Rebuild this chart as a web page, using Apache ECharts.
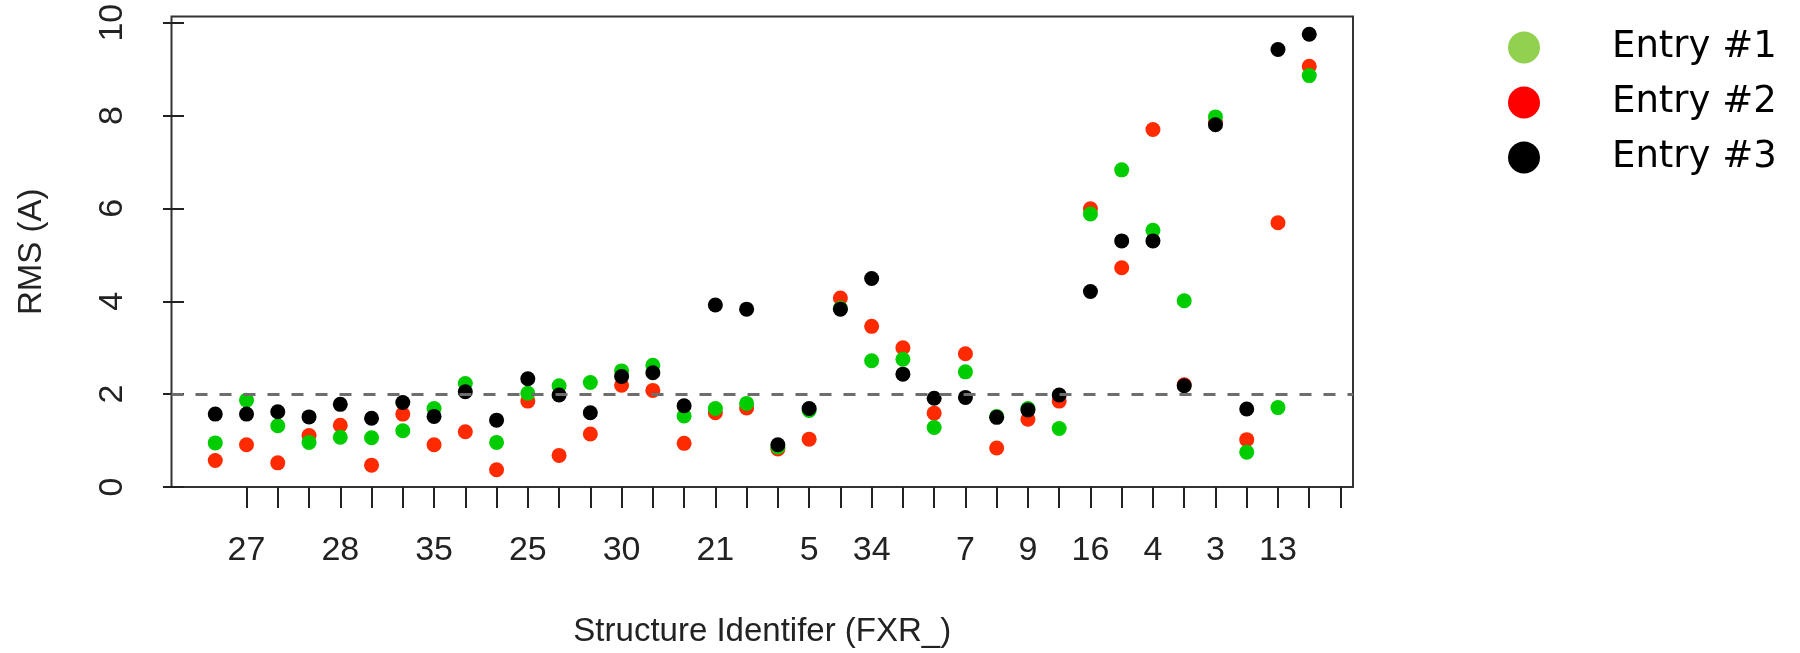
<!DOCTYPE html>
<html>
<head>
<meta charset="utf-8">
<script src="https://cdn.jsdelivr.net/npm/echarts@6.0.0/dist/echarts.min.js"></script>
<style>
    html, body { margin: 0; padding: 0; background: #fff; }
    #chart-rms { width: 1800px; height: 653px; }
</style>
</head>
<body>
<div id="chart-rms"></div>
<script>
// structure positions along x (1..36), ticks sit one step to the right of the points
const positions = [1, 2, 3, 4, 5, 6, 7, 8, 9, 10, 11, 12, 13, 14, 15, 16, 17, 18,
    19, 20, 21, 22, 23, 24, 25, 26, 27, 28, 29, 30, 31, 32, 33, 34, 35, 36];

const entry1 = [0.95, 1.87, 1.32, 0.96, 1.07, 1.06, 1.21, 1.69, 2.23, 0.96, 2.02, 2.18,
    2.25, 2.50, 2.62, 1.53, 1.69, 1.80, 0.86, 1.65, 3.85, 2.72, 2.75, 1.28,
    2.48, 1.52, 1.69, 1.26, 5.88, 6.83, 5.53, 4.01, 7.97, 0.75, 1.71, 8.86];
const entry2 = [0.57, 0.91, 0.52, 1.11, 1.33, 0.47, 1.57, 0.91, 1.19, 0.37, 1.85, 0.68,
    1.14, 2.19, 2.08, 0.94, 1.60, 1.70, 0.82, 1.03, 4.07, 3.46, 3.00, 1.59,
    2.87, 0.84, 1.46, 1.85, 5.99, 4.72, 7.70, 2.20, 7.85, 1.02, 5.69, 9.06];
const entry3 = [1.57, 1.57, 1.62, 1.51, 1.78, 1.48, 1.82, 1.52, 2.05, 1.44, 2.33, 1.98,
    1.60, 2.38, 2.46, 1.75, 3.92, 3.83, 0.91, 1.69, 3.83, 4.49, 2.43, 1.91,
    1.93, 1.50, 1.66, 1.98, 4.21, 5.30, 5.30, 2.18, 7.80, 1.68, 9.42, 9.75];

// x ticks and the labels R managed to fit
const xTickPos = [2, 3, 4, 5, 6, 7, 8, 9, 10, 11, 12, 13, 14, 15, 16, 17, 18, 19,
    20, 21, 22, 23, 24, 25, 26, 27, 28, 29, 30, 31, 32, 33, 34, 35, 36, 37];
const xLabelPos = [2, 5, 8, 11, 14, 17, 20, 22, 25, 27, 29, 31, 33, 35];
const xLabels = ['27', '28', '35', '25', '30', '21', '5', '34', '7', '9', '16', '4', '3', '13'];
const yTicks = [0, 2, 4, 6, 8, 10];
const threshold = 2;

function pairs(vals) {
    return vals.map((v, i) => [positions[i], v]);
}

let chart = echarts.init(document.getElementById('chart-rms'));

let font = 'Liberation Sans, Arial, sans-serif';

let option = {
    animation: false,
    textStyle: { fontFamily: font },
    grid: {
        left: 171.5,
        top: 16.6,
        width: 1181.5,
        height: 473.4,
        show: true,
        borderColor: '#333',
        borderWidth: 2
    },
    legend: {
        orient: 'vertical',
        left: 1503,
        top: 24,
        icon: 'circle',
        itemWidth: 32,
        itemHeight: 32,
        itemGap: 18,
        data: [
            { name: 'Entry #1', itemStyle: { color: '#92d050' } },
            { name: 'Entry #2', itemStyle: { color: '#ff0000' } },
            { name: 'Entry #3', itemStyle: { color: '#000000' } }
        ],
        textStyle: {
            fontFamily: 'DejaVu Sans',
            fontSize: 37,
            lineHeight: 37,
            color: '#000',
            padding: [0, 0, 0, 67]
        }
    },
    xAxis: {
        type: 'value',
        min: -0.4,
        max: 37.4,
        name: 'Structure Identifer (FXR_)',
        nameLocation: 'middle',
        nameGap: 128,
        nameTextStyle: { fontSize: 33, color: '#222' },
        axisLine: { show: false },
        axisTick: {
            show: true,
            length: 21,
            customValues: xTickPos,
            lineStyle: { color: '#222', width: 2 }
        },
        axisLabel: {
            customValues: xLabelPos,
            formatter: function (v) {
                let i = xLabelPos.indexOf(v);
                return i >= 0 ? xLabels[i] : '';
            },
            fontSize: 34,
            color: '#222',
            margin: 47
        },
        splitLine: { show: false }
    },
    yAxis: {
        type: 'value',
        min: 0,
        max: 10.13,
        name: 'RMS (A)',
        nameLocation: 'middle',
        nameGap: 123,
        nameRotate: 90,
        nameTextStyle: { fontSize: 33, color: '#222' },
        axisLine: { show: false },
        axisTick: {
            show: true,
            length: 21,
            customValues: yTicks,
            lineStyle: { color: '#222', width: 2 }
        },
        axisLabel: {
            customValues: yTicks,
            rotate: 90,
            fontSize: 34,
            color: '#222',
            margin: 42
        },
        splitLine: { show: false }
    },
    series: [
        {
            // dashed 2 A threshold, kept under the points
            type: 'line',
            z: 1,
            data: [],
            markLine: {
                silent: true,
                symbol: 'none',
                label: { show: false },
                lineStyle: { type: [12, 12], color: '#6e6e6e', width: 3 },
                data: [{ yAxis: threshold }]
            }
        },
        {
            name: 'Entry #2',
            type: 'scatter',
            symbolSize: 15,
            itemStyle: { color: '#ff2a00', opacity: 1 },
            data: pairs(entry2)
        },
        {
            name: 'Entry #1',
            type: 'scatter',
            symbolSize: 15,
            itemStyle: { color: '#00cd00', opacity: 1 },
            data: pairs(entry1)
        },
        {
            name: 'Entry #3',
            type: 'scatter',
            symbolSize: 15,
            itemStyle: { color: '#000000', opacity: 1 },
            data: pairs(entry3)
        }
    ]
};

chart.setOption(option);
</script>
</body>
</html>
